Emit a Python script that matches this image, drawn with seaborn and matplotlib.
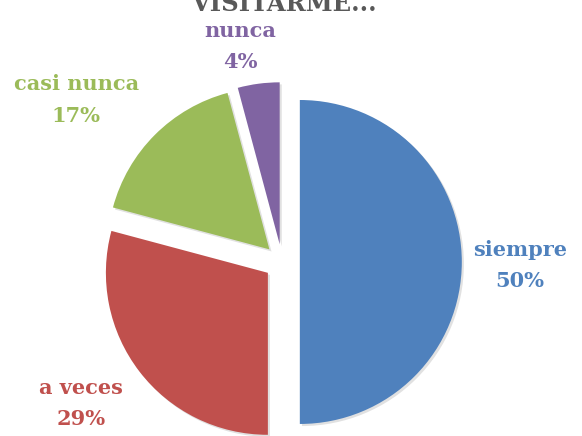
import matplotlib
matplotlib.use("Agg")
import matplotlib.pyplot as plt
import matplotlib.patheffects as pe
import seaborn as sns

# data
categories = ["siempre", "a veces", "casi nunca", "nunca"]
counts = [12, 7, 4, 1]
colors = ["#4F81BD", "#C0504D", "#9BBB59", "#8064A2"]
title = "VISITARME..."

sns.set_theme(style="white")
plt.rcParams["font.family"] = ["DejaVu Serif"]

fig = plt.figure(figsize=(5.82, 4.36), dpi=100)
ax = fig.add_axes([0, 0, 1, 1])

wedges, _ = ax.pie(counts, colors=colors, startangle=90, counterclock=False,
                   explode=[0.11] * len(counts),
                   wedgeprops=dict(linewidth=0))
for w in wedges:
    w.set_path_effects([pe.SimplePatchShadow(offset=(1.5, -1.5), shadow_rgbFace="#888888", alpha=0.25),
                        pe.Normal()])

ax.set_xlim(-1.741, 1.852)
ax.set_ylim(-1.074, 1.617)
ax.set_aspect("equal")
ax.axis("off")

# label positions (data units, centre of two-line label)
total = sum(counts)
label_pos = [(1.47, -0.02), (-1.24, -0.875), (-1.27, 1.0), (-0.26, 1.33)]
for name, c, col, (x, y) in zip(categories, counts, colors, label_pos):
    pct = round(100 * c / total)
    ax.text(x, y, f"{name}\n{pct}%", ha="center", va="center", color=col,
            fontsize=15, fontweight="bold", linespacing=1.7)

# title is clipped at the top edge, as in the original
ax.text(0.01, 1.59, title, ha="center", va="center", color="#595959",
        fontsize=17.5, fontweight="bold", clip_on=False)

fig.savefig("out.png", dpi=100)
